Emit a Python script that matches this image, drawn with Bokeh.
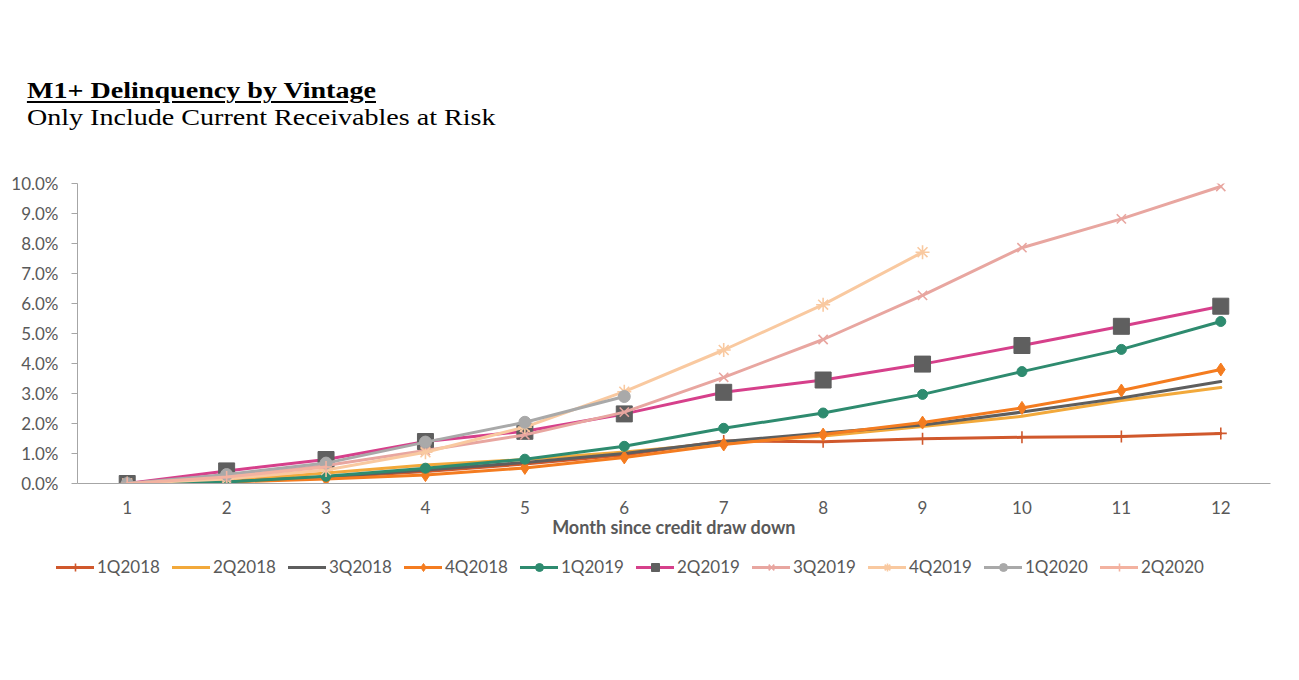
from bokeh.plotting import figure
from bokeh.models import (Div, Legend, LegendItem, FixedTicker, PrintfTickFormatter,
                          Range1d, ColumnDataSource)
from bokeh.layouts import column
from bokeh.embed import file_html
from bokeh.resources import INLINE

# M1+ delinquency (% of current receivables) by month since draw down
vintages = ["1Q2018", "2Q2018", "3Q2018", "4Q2018", "1Q2019",
            "2Q2019", "3Q2019", "4Q2019", "1Q2020", "2Q2020"]

q1_2018 = [0.0, 0.10, 0.20, 0.40, 0.65, 0.95, 1.42, 1.39, 1.49, 1.54, 1.57, 1.67]
q2_2018 = [0.0, 0.10, 0.35, 0.62, 0.80, 1.05, 1.35, 1.58, 1.90, 2.24, 2.77, 3.20]
q3_2018 = [0.0, 0.05, 0.22, 0.45, 0.70, 1.00, 1.40, 1.68, 1.95, 2.38, 2.85, 3.40]
q4_2018 = [0.0, 0.05, 0.15, 0.28, 0.52, 0.87, 1.30, 1.63, 2.03, 2.52, 3.10, 3.80]
q1_2019 = [0.0, 0.05, 0.24, 0.51, 0.81, 1.24, 1.84, 2.35, 2.97, 3.73, 4.47, 5.40]
q2_2019 = [0.0, 0.42, 0.80, 1.40, 1.74, 2.32, 3.04, 3.45, 3.98, 4.60, 5.24, 5.91]
q3_2019 = [0.0, 0.22, 0.60, 1.10, 1.62, 2.38, 3.54, 4.80, 6.27, 7.86, 8.82, 9.90]
q4_2019 = [0.0, 0.15, 0.45, 1.04, 1.88, 3.06, 4.45, 5.96, 7.71]
q1_2020 = [0.0, 0.30, 0.68, 1.38, 2.04, 2.90]
q2_2020 = [0.0, 0.22, 0.55]

series_values = [q1_2018, q2_2018, q3_2018, q4_2018, q1_2019,
                 q2_2019, q3_2019, q4_2019, q1_2020, q2_2020]

month_ticks = list(range(1, 13))
pct_ticks = [0, 1, 2, 3, 4, 5, 6, 7, 8, 9, 10]

# line colour, marker type, marker fill, marker line colour, marker size
styles = [
    ("#D0582C", "cross",    None,      "#D0582C", 12),
    ("#F2A93B", None,       None,      None,      0),
    ("#5E5E5E", None,       None,      None,      0),
    ("#F47C20", "diamond",  "#F47C20", "#F47C20", 13),
    ("#2E8B6F", "circle",   "#2E8B6F", "#2E8B6F", 10),
    ("#D6408B", "square",   "#5F5F5F", "#5F5F5F", 16),
    ("#E8A6A0", "x",        None,      "#E8A6A0", 13),
    ("#F9C9A0", "asterisk", None,      "#F9C9A0", 14),
    ("#A9A9A9", "circle",   "#A9A9A9", "#A9A9A9", 12),
    ("#F3B2A0", "cross",    None,      "#F3B2A0", 12),
]

TICK_COLOR = "#595959"
AXIS_COLOR = "#A6A6A6"

sources = [ColumnDataSource(dict(month=month_ticks[:len(v)], rate=v)) for v in series_values]


def add_series(fig, src, style):
    lc, marker, fill, mline, msize = style
    rs = [fig.line("month", "rate", source=src, line_color=lc, line_width=3,
                   line_join="round", line_cap="round")]
    if marker:
        rs.append(fig.scatter("month", "rate", source=src, marker=marker, size=msize,
                              fill_color=fill, line_color=mline,
                              line_width=1.6 if fill is None else 1))
    return rs


header = Div(
    text=(
        "<div style=\"font-family:'Liberation Serif', 'Times New Roman', serif;"
        "color:#000; padding:77px 0 0 23px; line-height:26px; font-size:24px;"
        "transform:scaleX(1.17); transform-origin:0 0; white-space:nowrap;\">"
        "<div style=\"font-weight:bold; text-decoration:underline;"
        "text-underline-offset:3px; text-decoration-thickness:2px;\">"
        "M1+ Delinquency by Vintage</div>"
        "<div style=\"margin-top:1px;\">Only Include Current Receivables at Risk</div>"
        "</div>"
    ),
    width=1299, height=150, margin=(0, 0, 0, 0),
)

p = figure(
    frame_width=1193, frame_height=300,
    min_border_left=77, min_border_right=29, min_border_top=33, min_border_bottom=64,
    x_range=Range1d(0.5, 12.5), y_range=Range1d(0, 10),
    output_backend="svg", toolbar_location=None, margin=(0, 0, 0, 0),
)
p.outline_line_color = None
p.xgrid.visible = False
p.ygrid.visible = False
p.background_fill_color = "white"
p.border_fill_color = "white"

for src, style in zip(sources, styles):
    add_series(p, src, style)

xa = p.xaxis[0]
xa.ticker = FixedTicker(ticks=month_ticks)
xa.major_tick_out = 0
xa.major_tick_in = 0
xa.minor_tick_line_color = None
xa.axis_line_color = AXIS_COLOR
xa.axis_line_width = 1.2
xa.major_label_text_font = "Lato"
xa.major_label_text_font_size = "17px"
xa.major_label_text_color = TICK_COLOR
xa.major_label_standoff = 17
xa.axis_label = "Month since credit draw down"
xa.axis_label_text_font = "Lato"
xa.axis_label_text_font_style = "bold"
xa.axis_label_text_font_size = "18px"
xa.axis_label_text_color = TICK_COLOR
xa.axis_label_standoff = -1

ya = p.yaxis[0]
ya.ticker = FixedTicker(ticks=pct_ticks)
ya.formatter = PrintfTickFormatter(format="%.1f%%")
ya.major_tick_out = 6
ya.major_tick_in = 0
ya.major_tick_line_color = AXIS_COLOR
ya.minor_tick_line_color = None
ya.axis_line_color = AXIS_COLOR
ya.major_label_text_font = "Lato"
ya.major_label_text_font_size = "17px"
ya.major_label_text_color = TICK_COLOR
ya.major_label_standoff = 13

# legend strip: shares the series sources, with a view range that keeps the lines out of sight
key = figure(
    width=1299, height=133, x_range=Range1d(0.5, 12.5), y_range=Range1d(1000, 1001),
    x_axis_type=None, y_axis_type=None,
    min_border_left=0, min_border_right=0, min_border_top=0, min_border_bottom=0,
    output_backend="svg", toolbar_location=None, margin=(0, 0, 0, 0),
)
key.outline_line_color = None
key.xgrid.visible = False
key.ygrid.visible = False

items = []
for name, src, style in zip(vintages, sources, styles):
    items.append(LegendItem(label=name, renderers=add_series(key, src, style)))

legend = Legend(
    items=items, orientation="horizontal", location=(56, 103),
    label_text_font="Lato", label_text_font_size="17px", label_text_color=TICK_COLOR,
    glyph_width=38, glyph_height=20, label_standoff=3, spacing=11, label_width=64,
    padding=0, margin=0, border_line_color=None, background_fill_alpha=0,
)
key.add_layout(legend)

chart = column(header, p, spacing=0, margin=(0, 0, 0, 0))
open("out.html", "w").write(file_html([chart, key], INLINE))
